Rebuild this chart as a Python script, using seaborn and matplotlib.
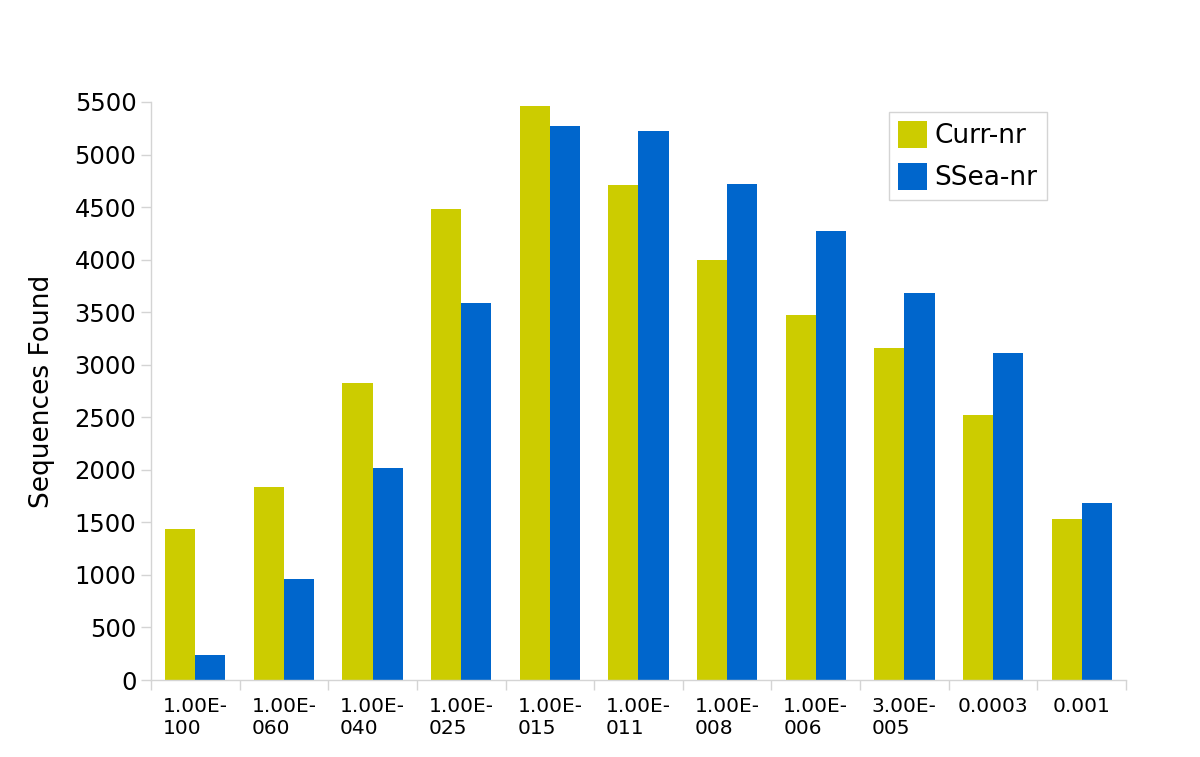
import numpy as np
import pandas as pd
import matplotlib
matplotlib.use('Agg')
import matplotlib.pyplot as plt
import seaborn as sns

# categories (e-value thresholds) and values
categories = ['1.00E-\n100', '1.00E-\n060', '1.00E-\n040', '1.00E-\n025', '1.00E-\n015',
              '1.00E-\n011', '1.00E-\n008', '1.00E-\n006', '3.00E-\n005', '0.0003', '0.001']
curr_nr = [1437, 1837, 2826, 4482, 5462, 4710, 3997, 3473, 3159, 2522, 1532]
ssea_nr = [238, 961, 2017, 3587, 5272, 5224, 4720, 4272, 3683, 3112, 1684]
series_names = ['Curr-nr', 'SSea-nr']
y_ticks = list(range(0, 5501, 500))

df = pd.DataFrame({
    'E-value': categories * 2,
    'Sequences Found': curr_nr + ssea_nr,
    'Database': [series_names[0]] * len(categories) + [series_names[1]] * len(categories),
})

sns.set_style('white')
plt.rcParams['font.family'] = ['DejaVu Sans']
plt.rcParams['text.color'] = 'black'
plt.rcParams['axes.labelcolor'] = 'black'
plt.rcParams['xtick.labelcolor'] = 'black'
plt.rcParams['ytick.labelcolor'] = 'black'
axis_grey = '#d4d4d4'

fig = plt.figure(figsize=(12, 7.57), dpi=100)
ax = fig.add_axes([0.1258, 0.1017, 0.8125, 0.7636])

sns.barplot(data=df, x='E-value', y='Sequences Found', hue='Database',
            palette=['#cccc00', '#0066cc'], width=0.68, saturation=1,
            linewidth=0, ax=ax)

ax.set_ylim(0, 5500)
ax.set_xlim(-0.5, len(categories) - 0.5)
ax.set_yticks(y_ticks)
ax.tick_params(axis='y', labelsize=17.5, length=7, width=1, color=axis_grey,
               labelcolor='black', direction='out', pad=3.5, left=True)

# labels centred under groups, ticks between groups
ax.set_xticks(range(len(categories)))
ax.set_xticklabels(categories, fontsize=14.5, linespacing=1.15)
for lbl in ax.get_xticklabels():
    lbl.set_multialignment('left')
    lbl.set_verticalalignment('top')
ax.tick_params(axis='x', which='major', length=0, pad=12.5, labelcolor='black')
ax.set_xticks(np.arange(-0.5, len(categories), 1), minor=True)
ax.tick_params(axis='x', which='minor', length=7, width=1, color=axis_grey,
               direction='out', bottom=True)

ax.set_xlabel('')
ax.set_ylabel('Sequences Found', fontsize=19, labelpad=14, color='black')

for side in ['top', 'right']:
    ax.spines[side].set_visible(False)
for side in ['left', 'bottom']:
    ax.spines[side].set_color(axis_grey)
    ax.spines[side].set_linewidth(1)

leg = ax.legend(loc='upper right', bbox_to_anchor=(0.919, 0.983), fontsize=19,
                frameon=True, fancybox=False, handlelength=1.1, handleheight=1.2,
                handletextpad=0.3, borderpad=0.35, labelspacing=0.5,
                borderaxespad=0, edgecolor=axis_grey, framealpha=1)
leg.get_frame().set_linewidth(1)
leg.set_title(None)
for t in leg.get_texts():
    t.set_color('black')

fig.savefig('out.png', dpi=100)
